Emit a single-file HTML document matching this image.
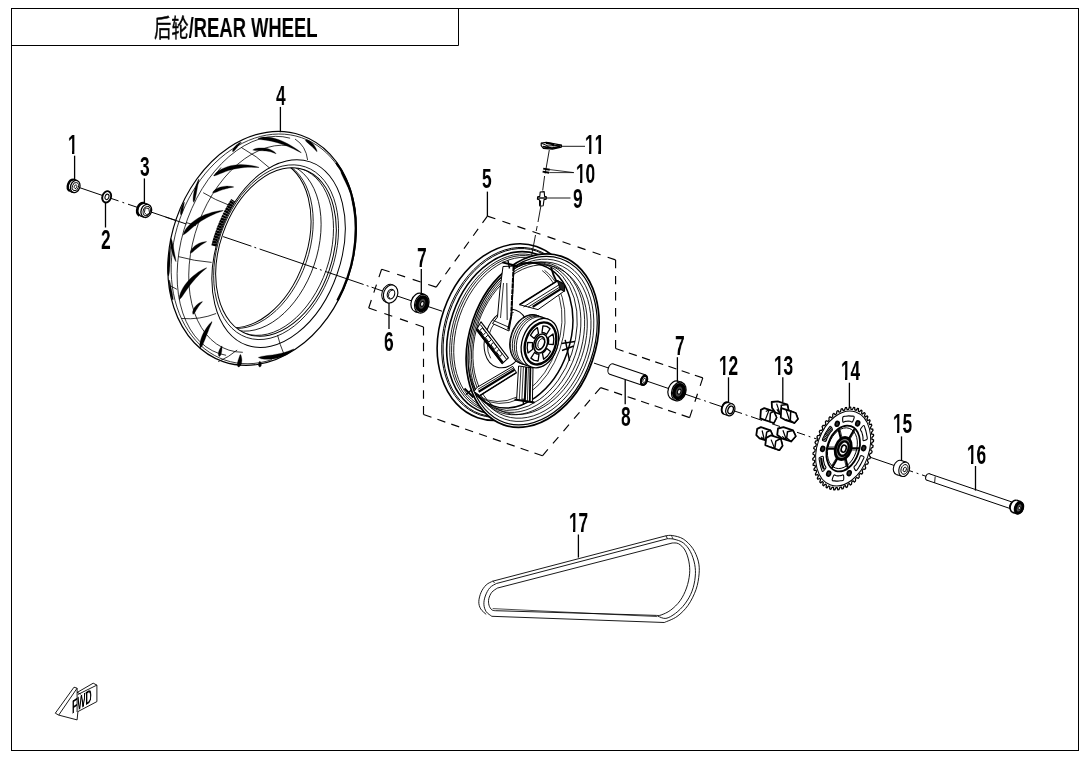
<!DOCTYPE html>
<html lang="zh"><head><meta charset="utf-8"><title>后轮/REAR WHEEL</title>
<style>
html,body{margin:0;padding:0;background:#fff;}
body{width:1090px;height:759px;overflow:hidden;position:relative;}
.t{position:absolute;white-space:nowrap;transform-origin:0 0;transform:scaleX(0.687);will-change:transform;line-height:30px;color:#000;}
.t .c{font:normal 25.2px/30px "Liberation Sans","Noto Sans CJK SC",sans-serif;-webkit-text-stroke:0.45px #000;}
.t .l{font:bold 26.8px/30px "Liberation Sans",sans-serif;}
.f{position:absolute;left:71.8px;top:697.5px;font:bold 18.5px/20px "Liberation Sans",sans-serif;color:#000;white-space:nowrap;transform-origin:0 0;transform:matrix(0.47,-0.30,0,1,0,0);will-change:transform;}
.n i{position:absolute;top:19.7px;height:4.2px;background:#fff;}
.n{position:absolute;font:bold 27.2px/1 "Liberation Sans",sans-serif;color:#000;white-space:nowrap;transform-origin:0 0;transform:scaleX(0.635);will-change:transform;font-kerning:none;}
svg{display:block;}
svg *{stroke:#000;}
text{stroke:none;fill:#000;}
.lb{font-family:"Liberation Sans",sans-serif;font-weight:bold;}
.cj{font-family:"Liberation Sans","Noto Sans CJK SC",sans-serif;font-weight:normal;stroke:#000 !important;stroke-width:0.45px;}
</style></head><body>
<svg width="1090" height="759" viewBox="0 0 1090 759" fill="none" stroke="#000" stroke-linecap="butt" stroke-linejoin="round">
<rect x="0" y="0" width="1090" height="759" fill="#fff" stroke="none" style="stroke:none"/>
<rect x="11.5" y="8.5" width="1067" height="742" stroke-width="1" fill="none" stroke-linejoin="miter"/>
<path d="M11.5 45.5H458.5V8.5" stroke-width="1" fill="none"/>
<line x1="78.0" y1="187.1" x2="102.0" y2="195.3" stroke-width="1.0" />
<line x1="111.0" y1="198.4" x2="118.5" y2="200.9" stroke-width="1.0" />
<line x1="122.4" y1="202.3" x2="124.2" y2="202.9" stroke-width="1.0" />
<line x1="128.0" y1="204.2" x2="139.0" y2="207.9" stroke-width="1.0" />
<line x1="151.0" y1="212.0" x2="186.0" y2="223.9" stroke-width="1.0" />
<line x1="371.6" y1="287.2" x2="384.0" y2="291.5" stroke-width="1.0" />
<line x1="396.0" y1="295.6" x2="414.0" y2="301.7" stroke-width="1.0" />
<line x1="428.0" y1="306.5" x2="442.0" y2="311.2" stroke-width="1.0" />
<line x1="594.0" y1="363.1" x2="610.0" y2="368.5" stroke-width="1.0" />
<line x1="646.0" y1="380.8" x2="670.0" y2="389.0" stroke-width="1.0" />
<line x1="685.0" y1="394.1" x2="700.5" y2="399.4" stroke-width="1.0" />
<line x1="704.1" y1="400.6" x2="705.9" y2="401.2" stroke-width="1.0" />
<line x1="709.5" y1="402.5" x2="724.0" y2="407.4" stroke-width="1.0" />
<line x1="735.0" y1="411.2" x2="742.0" y2="413.5" stroke-width="1.0" />
<line x1="745.6" y1="414.8" x2="747.4" y2="415.4" stroke-width="1.0" />
<line x1="751.0" y1="416.6" x2="762.0" y2="420.4" stroke-width="1.0" />
<line x1="772.0" y1="423.8" x2="780.0" y2="426.5" stroke-width="1.0" />
<line x1="797.0" y1="432.3" x2="805.0" y2="435.0" stroke-width="1.0" />
<line x1="808.6" y1="436.3" x2="810.4" y2="436.9" stroke-width="1.0" />
<line x1="814.0" y1="438.1" x2="822.0" y2="440.8" stroke-width="1.0" />
<line x1="868.0" y1="456.5" x2="896.0" y2="466.1" stroke-width="1.0" />
<line x1="909.0" y1="470.5" x2="913.0" y2="471.9" stroke-width="1.0" />
<line x1="916.6" y1="473.1" x2="918.4" y2="473.7" stroke-width="1.0" />
<line x1="922.0" y1="474.9" x2="928.0" y2="477.0" stroke-width="1.0" />
<line x1="487.4" y1="216.1" x2="615.6" y2="259.9" stroke-width="1.15" stroke-dasharray="8.40 7.48"/>
<line x1="615.6" y1="259.9" x2="615.6" y2="348.5" stroke-width="1.15" stroke-dasharray="8.40 7.64"/>
<line x1="615.6" y1="348.5" x2="702.8" y2="377.9" stroke-width="1.15" stroke-dasharray="8.40 5.54"/>
<line x1="702.8" y1="377.9" x2="689.6" y2="417.6" stroke-width="1.15" stroke-dasharray="8.40 8.32"/>
<line x1="689.6" y1="417.6" x2="600.6" y2="387.6" stroke-width="1.15" stroke-dasharray="8.40 5.85"/>
<line x1="600.6" y1="387.6" x2="542.4" y2="455.8" stroke-width="1.15" stroke-dasharray="8.40 7.85"/>
<line x1="542.4" y1="455.8" x2="423.5" y2="414.5" stroke-width="1.15" stroke-dasharray="8.40 6.28"/>
<line x1="423.5" y1="414.5" x2="423.5" y2="327.0" stroke-width="1.15" stroke-dasharray="8.40 7.42"/>
<line x1="423.5" y1="327.0" x2="368.7" y2="308.0" stroke-width="1.15" stroke-dasharray="8.40 8.13"/>
<line x1="368.7" y1="308.0" x2="381.6" y2="269.2" stroke-width="1.15" stroke-dasharray="8.40 7.84"/>
<line x1="381.6" y1="269.2" x2="436.2" y2="287.1" stroke-width="1.15" stroke-dasharray="8.40 7.95"/>
<line x1="436.2" y1="287.1" x2="487.4" y2="216.1" stroke-width="1.15" stroke-dasharray="8.40 7.43"/>
<defs><clipPath id="cpHole"><ellipse cx="276" cy="252" rx="56.2" ry="87" transform="rotate(19 276 252)"/></clipPath></defs>
<ellipse cx="262.1" cy="248.4" rx="90.8" ry="119.7" transform="rotate(19.0 262.1 248.4)" stroke-width="1.2" fill="#fff" />
<path d="M272.0 359.6A88.6 117.6 19.0 1 1 338.3 167.0" stroke-width="0.8" fill="none" />
<path d="M226.1 355.3A73.2 113.4 19.0 1 1 290.1 138.2" stroke-width="0.8" fill="none" />
<path d="M242.8 352.3A69.1 106.9 19.0 1 1 288.7 145.6" stroke-width="0.8" fill="none" />
<path d="M336.3 162.9A90.2 119.0 19.0 0 1 337.4 300.6" stroke-width="2.2" fill="none" />
<ellipse cx="278.6" cy="253.6" rx="62.0" ry="97.0" transform="rotate(19.0 278.6 253.6)" stroke-width="1" fill="#fff" />
<ellipse cx="276.1" cy="252.2" rx="58.3" ry="90.2" transform="rotate(19.0 276.1 252.2)" stroke-width="0.8" fill="none" />
<ellipse cx="276.0" cy="252.0" rx="56.2" ry="87.0" transform="rotate(19.0 276.0 252.0)" stroke-width="1" fill="#fff" />
<g clip-path="url(#cpHole)">
<ellipse cx="250.7" cy="243.4" rx="56.2" ry="87.0" transform="rotate(19.0 250.7 243.4)" stroke-width="1" fill="none" />
<ellipse cx="253.0" cy="244.2" rx="56.2" ry="87.0" transform="rotate(19.0 253.0 244.2)" stroke-width="0.8" fill="none" />
<ellipse cx="260.9" cy="246.9" rx="56.2" ry="87.0" transform="rotate(19.0 260.9 246.9)" stroke-width="0.8" fill="none" />
<ellipse cx="273.3" cy="251.1" rx="56.2" ry="87.0" transform="rotate(19.0 273.3 251.1)" stroke-width="0.8" fill="none" />
</g>
<polygon points="258.0,138.9 260.7,139.6 263.3,139.9 265.9,140.2 268.6,140.7 271.4,141.2 274.3,141.9 277.3,142.7 280.4,143.7 283.6,144.8 286.9,146.1 290.3,147.5 293.8,149.1 297.4,150.9 301.1,152.8 301.3,152.6 297.9,150.0 294.5,147.8 291.2,145.7 287.9,143.8 284.7,142.2 281.5,140.8 278.3,139.5 275.2,138.6 272.1,137.8 269.1,137.3 266.2,137.1 263.3,137.1 260.6,137.5 258.0,138.7" fill="#000" stroke-width="0.3"/>
<polygon points="305.3,140.1 306.0,141.3 306.9,142.2 307.7,143.0 308.6,143.7 309.4,144.4 310.3,145.2 311.1,145.9 312.0,146.6 312.8,147.4 313.6,148.2 314.4,149.0 315.2,149.9 316.0,150.8 316.9,151.7 317.1,151.5 316.8,150.3 316.3,149.1 315.8,148.0 315.2,146.9 314.6,145.9 313.9,144.9 313.1,143.9 312.2,143.0 311.3,142.2 310.3,141.5 309.3,140.8 308.1,140.2 306.9,139.8 305.5,139.9" fill="#000" stroke-width="0.3"/>
<polygon points="252.8,150.1 255.0,150.5 257.1,150.6 259.0,150.7 260.9,150.7 262.7,150.8 264.4,150.9 266.0,151.0 267.5,151.2 269.0,151.5 270.5,151.8 271.9,152.2 273.2,152.7 274.6,153.2 275.9,153.8 276.1,153.6 275.1,152.5 273.9,151.5 272.6,150.7 271.2,149.9 269.7,149.3 268.1,148.7 266.4,148.3 264.7,148.0 262.8,147.9 260.9,147.9 258.9,148.0 256.9,148.3 254.8,148.8 252.8,149.9" fill="#000" stroke-width="0.3"/>
<polygon points="232.8,151.7 233.8,151.2 234.5,150.6 235.1,149.9 235.6,149.2 236.2,148.5 236.8,147.9 237.3,147.2 237.8,146.5 238.4,145.8 239.0,145.1 239.5,144.4 240.1,143.7 240.7,143.0 241.3,142.2 241.1,142.0 240.2,142.4 239.4,142.8 238.6,143.3 237.8,143.9 237.1,144.4 236.3,145.0 235.6,145.7 235.0,146.4 234.4,147.1 233.8,147.9 233.3,148.7 232.9,149.5 232.6,150.4 232.6,151.5" fill="#000" stroke-width="0.3"/>
<polygon points="213.9,176.0 217.1,175.1 220.0,173.8 222.8,172.7 225.6,171.6 228.5,170.6 231.5,169.7 234.6,169.0 237.7,168.4 240.9,167.9 244.3,167.5 247.8,167.3 251.4,167.3 255.1,167.4 259.0,167.5 259.0,167.3 255.3,166.2 251.5,165.5 247.9,165.0 244.3,164.7 240.7,164.6 237.2,164.8 233.8,165.2 230.5,165.8 227.3,166.7 224.2,167.9 221.2,169.3 218.4,171.0 215.8,173.1 213.7,175.8" fill="#000" stroke-width="0.3"/>
<polygon points="212.8,192.8 214.5,192.7 216.0,192.2 217.4,191.7 218.8,191.1 220.2,190.6 221.6,190.1 223.0,189.6 224.5,189.2 225.9,188.8 227.4,188.4 228.9,188.0 230.5,187.7 232.1,187.4 233.8,187.1 233.8,186.9 232.1,186.5 230.5,186.3 228.8,186.2 227.1,186.1 225.5,186.2 223.8,186.4 222.2,186.7 220.6,187.1 219.1,187.6 217.6,188.3 216.2,189.0 214.8,190.0 213.6,191.0 212.6,192.6" fill="#000" stroke-width="0.3"/>
<polygon points="193.8,202.2 194.7,200.6 195.2,198.9 195.6,197.2 195.9,195.5 196.3,193.9 196.6,192.2 196.9,190.6 197.2,188.9 197.5,187.3 197.8,185.6 198.2,184.0 198.5,182.4 198.8,180.7 199.1,179.1 198.9,178.9 198.0,180.4 197.3,182.0 196.7,183.5 196.0,185.1 195.5,186.7 194.9,188.4 194.5,190.0 194.0,191.7 193.7,193.4 193.4,195.1 193.2,196.8 193.1,198.6 193.1,200.4 193.6,202.2" fill="#000" stroke-width="0.3"/>
<polygon points="183.3,235.0 186.2,233.1 188.7,230.9 191.1,228.8 193.5,226.8 196.0,224.8 198.5,223.0 201.2,221.1 203.9,219.4 206.8,217.8 209.8,216.2 213.0,214.7 216.2,213.3 219.7,212.0 223.2,210.7 223.2,210.5 219.4,210.8 215.7,211.5 212.1,212.3 208.7,213.4 205.3,214.6 202.1,216.0 199.0,217.6 196.1,219.4 193.3,221.4 190.7,223.6 188.3,226.0 186.1,228.6 184.3,231.5 183.1,234.8" fill="#000" stroke-width="0.3"/>
<polygon points="190.6,253.1 192.1,252.4 193.3,251.5 194.3,250.6 195.3,249.7 196.3,248.9 197.4,248.0 198.4,247.2 199.4,246.4 200.5,245.6 201.6,244.8 202.8,244.0 204.0,243.3 205.2,242.6 206.5,241.8 206.5,241.6 204.9,241.7 203.5,241.9 202.0,242.3 200.6,242.8 199.2,243.3 197.9,243.9 196.6,244.7 195.4,245.5 194.2,246.4 193.2,247.5 192.2,248.6 191.3,249.9 190.6,251.2 190.4,252.9" fill="#000" stroke-width="0.3"/>
<polygon points="179.3,299.7 181.7,297.3 183.4,294.7 185.1,292.2 186.8,289.8 188.5,287.4 190.2,285.0 192.0,282.7 193.9,280.5 195.8,278.3 197.8,276.2 199.9,274.1 202.0,272.0 204.3,270.0 206.7,268.0 206.5,267.8 203.7,269.0 200.9,270.5 198.3,272.1 195.8,273.9 193.4,275.8 191.1,277.8 188.9,280.0 186.8,282.4 185.0,284.8 183.2,287.4 181.7,290.2 180.4,293.1 179.4,296.2 179.1,299.5" fill="#000" stroke-width="0.3"/>
<polygon points="193.1,314.3 194.2,313.4 194.9,312.4 195.5,311.5 196.0,310.5 196.6,309.6 197.2,308.7 197.7,307.8 198.3,307.0 198.9,306.1 199.5,305.2 200.2,304.4 200.9,303.5 201.7,302.7 202.5,301.8 202.3,301.6 201.2,302.0 200.1,302.5 199.1,303.1 198.1,303.7 197.2,304.5 196.3,305.3 195.5,306.2 194.8,307.1 194.1,308.1 193.5,309.2 193.1,310.4 192.7,311.6 192.6,312.8 192.9,314.3" fill="#000" stroke-width="0.3"/>
<polygon points="200.4,348.0 202.0,346.2 203.0,344.2 203.8,342.3 204.6,340.4 205.4,338.5 206.1,336.6 206.8,334.7 207.6,332.8 208.3,331.0 209.0,329.1 209.8,327.3 210.6,325.5 211.4,323.7 212.1,321.8 211.9,321.6 210.4,323.0 209.0,324.5 207.8,326.1 206.5,327.8 205.4,329.5 204.3,331.3 203.3,333.1 202.4,335.1 201.6,337.0 200.9,339.1 200.3,341.2 199.9,343.3 199.7,345.6 200.2,348.0" fill="#000" stroke-width="0.3"/>
<polygon points="219.4,356.5 220.3,355.8 220.7,355.1 221.0,354.4 221.2,353.7 221.4,352.9 221.5,352.2 221.7,351.5 221.8,350.7 221.9,350.0 221.9,349.2 222.0,348.4 222.1,347.7 222.1,346.9 222.1,346.1 221.9,345.9 221.3,346.6 220.8,347.2 220.4,347.9 220.0,348.6 219.6,349.3 219.3,350.0 219.0,350.8 218.7,351.5 218.5,352.3 218.4,353.1 218.4,353.9 218.4,354.8 218.5,355.6 219.2,356.5" fill="#000" stroke-width="0.3"/>
<polygon points="238.4,367.1 239.7,366.5 240.4,365.7 240.9,364.9 241.3,364.0 241.6,363.1 241.7,362.1 241.8,361.2 241.9,360.2 241.8,359.2 241.7,358.2 241.5,357.3 241.3,356.3 241.0,355.3 240.5,354.4 240.3,354.4 239.8,355.3 239.5,356.2 239.2,357.1 238.9,358.0 238.6,358.9 238.3,359.7 238.0,360.5 237.8,361.4 237.6,362.2 237.4,363.0 237.4,363.9 237.4,364.8 237.5,365.8 238.2,366.9" fill="#000" stroke-width="0.3"/>
<polygon points="258.3,357.6 261.3,358.8 264.4,359.2 267.4,359.3 270.3,359.2 273.1,358.9 275.9,358.4 278.5,357.8 281.1,357.0 283.5,356.0 285.9,354.9 288.1,353.7 290.3,352.3 292.3,350.8 294.1,349.1 293.9,348.9 291.7,349.8 289.4,350.7 287.2,351.5 284.8,352.3 282.5,352.9 280.1,353.5 277.6,354.0 275.1,354.4 272.5,354.9 269.9,355.2 267.1,355.6 264.3,356.0 261.4,356.4 258.3,357.4" fill="#000" stroke-width="0.3"/>
<polygon points="259.9,367.0 260.7,366.6 261.0,366.2 261.2,365.8 261.3,365.3 261.3,364.9 261.3,364.5 261.3,364.1 261.2,363.6 261.1,363.2 260.9,362.8 260.7,362.4 260.5,362.0 260.3,361.6 259.9,361.2 259.7,361.2 259.4,361.6 259.2,362.0 259.0,362.4 258.9,362.8 258.7,363.2 258.6,363.6 258.5,364.1 258.5,364.5 258.4,364.9 258.5,365.3 258.5,365.7 258.7,366.1 259.0,366.5 259.7,367.0" fill="#000" stroke-width="0.3"/>
<polygon points="170.7,238.4 170.2,240.2 170.2,241.9 170.3,243.6 170.5,245.2 170.7,246.9 171.1,248.6 171.5,250.3 171.9,251.9 172.5,253.6 173.0,255.2 173.7,256.8 174.3,258.5 175.0,260.1 175.9,261.6 176.1,261.6 175.8,259.8 175.5,258.1 175.2,256.4 174.8,254.7 174.5,253.0 174.2,251.4 173.9,249.7 173.6,248.1 173.3,246.4 173.0,244.8 172.6,243.2 172.2,241.6 171.8,240.0 170.9,238.4" fill="#000" stroke-width="0.3"/>
<polygon points="168.5,276.0 169.1,274.0 169.4,272.0 169.6,270.0 169.7,267.9 169.9,265.9 170.0,263.8 170.1,261.7 170.2,259.6 170.3,257.5 170.3,255.3 170.4,253.1 170.5,251.0 170.6,248.8 170.6,246.5 170.4,246.5 169.8,248.7 169.4,250.8 169.0,253.0 168.7,255.2 168.4,257.3 168.1,259.4 167.9,261.5 167.7,263.7 167.6,265.7 167.5,267.8 167.5,269.9 167.5,271.9 167.7,274.0 168.3,276.0" fill="#000" stroke-width="0.3"/>
<polygon points="181.1,214.9 181.8,214.0 182.2,213.1 182.5,212.2 182.8,211.3 183.0,210.4 183.2,209.5 183.4,208.5 183.5,207.6 183.7,206.7 183.8,205.8 184.0,205.0 184.1,204.1 184.3,203.2 184.3,202.3 184.1,202.1 183.5,202.9 183.1,203.7 182.6,204.5 182.2,205.4 181.9,206.2 181.5,207.1 181.2,208.0 181.0,208.9 180.7,209.9 180.6,210.8 180.4,211.8 180.4,212.8 180.4,213.8 180.9,214.9" fill="#000" stroke-width="0.3"/>
<polygon points="173.1,300.0 173.2,298.4 173.0,296.9 172.7,295.5 172.5,294.1 172.2,292.6 171.9,291.2 171.6,289.8 171.3,288.4 171.0,287.0 170.7,285.6 170.5,284.2 170.2,282.8 169.9,281.4 169.6,280.0 169.4,280.0 169.2,281.5 169.2,282.9 169.2,284.4 169.3,285.8 169.3,287.3 169.5,288.7 169.7,290.2 169.9,291.6 170.2,293.1 170.5,294.5 170.9,295.9 171.4,297.4 172.0,298.7 172.9,300.0" fill="#000" stroke-width="0.3"/>
<polygon points="340.9,172.1 341.4,173.7 342.1,175.2 342.8,176.8 343.5,178.3 344.2,179.8 345.0,181.3 345.7,182.8 346.5,184.4 347.2,186.0 348.0,187.5 348.7,189.1 349.4,190.8 350.1,192.4 350.9,194.0 351.1,194.0 350.7,192.2 350.2,190.5 349.7,188.8 349.1,187.1 348.6,185.4 347.9,183.8 347.3,182.2 346.6,180.6 345.8,179.0 345.0,177.5 344.2,176.0 343.3,174.6 342.3,173.2 341.1,171.9" fill="#000" stroke-width="0.3"/>
<polygon points="351.4,196.0 351.4,197.7 351.6,199.3 351.9,200.9 352.2,202.5 352.5,204.2 352.9,205.8 353.2,207.4 353.5,209.0 353.8,210.7 354.1,212.3 354.4,214.0 354.7,215.6 355.0,217.3 355.4,219.0 355.6,219.0 355.7,217.3 355.6,215.5 355.5,213.8 355.4,212.1 355.2,210.5 355.1,208.8 354.8,207.1 354.6,205.5 354.2,203.8 353.9,202.2 353.5,200.6 353.0,199.0 352.5,197.4 351.6,196.0" fill="#000" stroke-width="0.3"/>
<path d="M203.2 192.7Q215 200 229.6 205.4" stroke-width="0.8" fill="none" />
<path d="M241.2 147.4Q257 156 269.6 168" stroke-width="0.8" fill="none" />
<path d="M295 139Q306 146 307.6 160" stroke-width="0.8" fill="none" />
<path d="M178.4 256.6Q194 261 211.6 262.4" stroke-width="0.8" fill="none" />
<path d="M170 285.6L176.9 289.3" stroke-width="0.8" fill="none" />
<path d="M181.4 318.5Q200 320 216.1 313.5" stroke-width="0.8" fill="none" />
<path d="M218.2 361.7Q229 357 237.2 350" stroke-width="0.8" fill="none" />
<path d="M186 222.5L196 225.5" stroke-width="0.8" fill="none" />
<path d="M214 176L221 167.5" stroke-width="0.8" fill="none" />
<path d="M277.5 335Q280 345 283.5 353" stroke-width="0.8" fill="none" />
<path d="M213.6 245.9A64.6 99.7 19.0 0 1 233.2 200.2" stroke-width="4.6" fill="none" stroke-dasharray="2.4 0.3"/>
<line x1="165.5" y1="217.0" x2="186.3" y2="224.0" stroke-width="1.0" />
<line x1="223.1" y1="236.6" x2="251.4" y2="246.2" stroke-width="1.0" />
<line x1="254.4" y1="247.3" x2="256.2" y2="247.9" stroke-width="1.0" />
<line x1="259.6" y1="249.0" x2="316.9" y2="268.6" stroke-width="1.0" />
<line x1="319.9" y1="269.6" x2="321.7" y2="270.2" stroke-width="1.0" />
<line x1="325.1" y1="271.4" x2="363.6" y2="284.5" stroke-width="1.0" />
<line x1="366.7" y1="285.6" x2="368.5" y2="286.2" stroke-width="1.0" />
<ellipse cx="507.1" cy="332.1" rx="66.9" ry="90.5" transform="rotate(19.0 507.1 332.1)" stroke-width="1.6" fill="#fff" />
<ellipse cx="508.0" cy="332.4" rx="63.4" ry="87.2" transform="rotate(19.0 508.0 332.4)" stroke-width="0.9" fill="none" />
<ellipse cx="508.3" cy="332.5" rx="62.3" ry="86.2" transform="rotate(19.0 508.3 332.5)" stroke-width="0.9" fill="none" />
<ellipse cx="509.1" cy="332.8" rx="59.3" ry="83.4" transform="rotate(19.0 509.1 332.8)" stroke-width="1.6" fill="none" />
<ellipse cx="509.7" cy="333.0" rx="57.0" ry="81.2" transform="rotate(19.0 509.7 333.0)" stroke-width="0.8" fill="none" />
<ellipse cx="510.1" cy="333.1" rx="55.5" ry="79.8" transform="rotate(19.0 510.1 333.1)" stroke-width="0.8" fill="none" />
<ellipse cx="510.5" cy="333.3" rx="53.7" ry="78.2" transform="rotate(19.0 510.5 333.3)" stroke-width="0.8" fill="none" />
<ellipse cx="532.6" cy="340.6" rx="63.1" ry="89.1" transform="rotate(19.0 532.6 340.6)" stroke-width="1.7" fill="#fff" />
<ellipse cx="532.6" cy="340.6" rx="61.3" ry="86.6" transform="rotate(19.0 532.6 340.6)" stroke-width="1.2" fill="none" />
<defs><clipPath id="cpRim"><ellipse cx="532.6" cy="340.6" rx="61.3" ry="86.6" transform="rotate(19 532.6 340.6)"/></clipPath></defs>
<g clip-path="url(#cpRim)">
<ellipse cx="531.8" cy="340.3" rx="59.0" ry="83.4" transform="rotate(19.0 531.8 340.3)" stroke-width="0.8" fill="none" />
<ellipse cx="531.2" cy="340.1" rx="56.9" ry="80.3" transform="rotate(19.0 531.2 340.1)" stroke-width="0.8" fill="none" />
<ellipse cx="530.1" cy="339.7" rx="54.4" ry="76.9" transform="rotate(19.0 530.1 339.7)" stroke-width="0.8" fill="none" />
<ellipse cx="526.2" cy="338.4" rx="55.6" ry="78.5" transform="rotate(19.0 526.2 338.4)" stroke-width="0.8" fill="none" />
<ellipse cx="523.6" cy="337.5" rx="54.5" ry="77.0" transform="rotate(19.0 523.6 337.5)" stroke-width="0.8" fill="none" />
<ellipse cx="520.7" cy="336.5" rx="53.8" ry="76.0" transform="rotate(19.0 520.7 336.5)" stroke-width="0.8" fill="none" />
<ellipse cx="517.4" cy="335.4" rx="52.7" ry="74.5" transform="rotate(19.0 517.4 335.4)" stroke-width="1.5" fill="none" />
<path d="M544.5 270.3A51.0 72.0 19.0 0 1 480.1 397.6" stroke-width="0.8" fill="none" />
<path d="M542.1 270.5A50.3 71.0 19.0 0 1 478.6 396.0" stroke-width="0.8" fill="none" />
</g>
<ellipse cx="506.2" cy="338.6" rx="21.0" ry="30.0" transform="rotate(19.0 506.2 338.6)" stroke-width="1.0" fill="#fff" />
<path d="M490.7 358.3A19.0 27.4 19.0 0 1 513.7 312.5" stroke-width="0.8" fill="none" />
<polygon points="503.0,266.5 514.0,266.0 511.6,316.0 509.0,331.0 492.5,323.5 497.5,317.0 499.8,291.0" stroke-width="1.0" fill="#fff" />
<line x1="513.6" y1="266.0" x2="511.2" y2="316.0" stroke-width="2.0" stroke-dasharray="5 0.8"/>
<line x1="511.2" y1="316.0" x2="508.0" y2="329.5" stroke-width="1.6" />
<line x1="506.8" y1="283.0" x2="507.2" y2="320.0" stroke-width="0.9" />
<line x1="503.5" y1="283.0" x2="500.5" y2="318.0" stroke-width="0.8" />
<line x1="493.5" y1="320.5" x2="509.5" y2="327.5" stroke-width="0.9" />
<path d="M502.3 262.4L517.6 266.2" stroke-width="2.0" fill="none" />
<path d="M508 260.5L509.5 268.5" stroke-width="1.4" fill="none" />
<polygon points="519.5,304.7 557.7,280.6 564.5,284.5 564.3,291.0 538.0,309.6" stroke-width="1.0" fill="#fff" />
<line x1="523.5" y1="307.0" x2="559.0" y2="284.8" stroke-width="0.9" />
<line x1="532.7" y1="306.9" x2="561.7" y2="288.4" stroke-width="2.3" />
<line x1="528.0" y1="307.2" x2="560.5" y2="286.6" stroke-width="0.9" />
<line x1="519.5" y1="304.7" x2="557.7" y2="280.6" stroke-width="1.6" />
<polygon points="557.3,280.4 564.6,284.4 564.6,291.4 560.2,289.3" stroke-width="1.0" fill="#222" />
<path d="M551 267Q553 275 556.5 281.5" stroke-width="1.8" fill="none" />
<polygon points="481.0,321.8 508.4,357.8 502.2,363.6 476.4,329.6" stroke-width="1.1" fill="#fff" />
<line x1="477.0" y1="329.4" x2="502.6" y2="362.8" stroke-width="2.6" />
<line x1="480.4" y1="324.6" x2="506.6" y2="359.4" stroke-width="1.0" />
<polygon points="482.4,328.0 485.8,332.5 483.3,334.9 479.9,330.4" stroke-width="1.0" fill="#fff" />
<polygon points="487.9,335.2 491.3,339.7 488.8,342.1 485.4,337.6" stroke-width="1.0" fill="#fff" />
<polygon points="493.4,342.4 496.8,346.9 494.3,349.3 490.9,344.8" stroke-width="1.0" fill="#fff" />
<polygon points="498.9,349.6 502.3,354.1 499.8,356.5 496.4,352.0" stroke-width="1.0" fill="#fff" />
<polygon points="512.7,366.4 477.0,387.4 474.0,391.5 479.8,395.6 516.5,372.6" stroke-width="1.0" fill="#fff" />
<line x1="514.5" y1="369.8" x2="478.6" y2="391.8" stroke-width="2.2" />
<line x1="513.5" y1="368.0" x2="477.8" y2="389.4" stroke-width="0.9" />
<line x1="516.5" y1="372.6" x2="479.8" y2="395.6" stroke-width="1.5" />
<path d="M464.5 388.5L473.5 397.5" stroke-width="2.0" fill="none" />
<path d="M466 394.5L472 389.5" stroke-width="1.3" fill="none" />
<polygon points="518.6,366.0 516.6,400.0 532.4,402.0 533.0,368.0" stroke-width="1.0" fill="#fff" />
<line x1="521.0" y1="367.0" x2="519.2" y2="401.0" stroke-width="0.8" />
<line x1="523.4" y1="367.0" x2="521.8" y2="401.0" stroke-width="0.8" />
<line x1="526.2" y1="367.0" x2="524.8" y2="401.0" stroke-width="2.0" />
<line x1="528.4" y1="367.0" x2="527.4" y2="401.0" stroke-width="0.8" />
<line x1="530.4" y1="367.0" x2="529.8" y2="401.0" stroke-width="1.8" />
<path d="M514.5 399.5L534.5 402.5" stroke-width="2.0" fill="none" />
<path d="M523 398.5L523.5 405" stroke-width="1.3" fill="none" />
<path d="M561.5 343.5L575 341.5M565.2 339.8L569.6 360.8M562 350.5L573.8 346" stroke-width="1.5" fill="none" />
<ellipse cx="528.4" cy="339.3" rx="17.8" ry="25.4" transform="rotate(19.0 528.4 339.3)" stroke-width="1" fill="#fff" />
<path d="M520.1 363.3L531.6 367.2L548.2 319.2L536.7 315.3Z" stroke-width="0.01" fill="#fff" />
<line x1="520.1" y1="363.3" x2="531.6" y2="367.2" stroke-width="1" />
<line x1="536.7" y1="315.3" x2="548.2" y2="319.2" stroke-width="1" />
<path d="M526.4 365.4A17.8 25.4 19.0 0 1 543.0 317.4" stroke-width="0.9" fill="none" />
<path d="M524.4 364.7A17.8 25.4 19.0 0 1 541.0 316.7" stroke-width="0.9" fill="none" />
<path d="M522.4 364.1A17.8 25.4 19.0 0 1 539.0 316.1" stroke-width="0.9" fill="none" />
<path d="M520.4 363.4A17.8 25.4 19.0 0 1 537.0 315.4" stroke-width="0.9" fill="none" />
<ellipse cx="539.9" cy="343.2" rx="17.8" ry="25.4" transform="rotate(19.0 539.9 343.2)" stroke-width="1.3" fill="#fff" />
<ellipse cx="540.5" cy="343.4" rx="15.0" ry="21.6" transform="rotate(19.0 540.5 343.4)" stroke-width="2.4" fill="none" />
<polygon points="550.6,351.5 547.5,356.0 543.6,359.2 542.4,353.2 544.8,351.2 546.8,348.4" stroke-width="1.3" fill="#fff" />
<polygon points="538.1,361.0 534.2,360.4 530.9,358.1 534.5,352.5 536.6,353.9 539.0,354.3" stroke-width="1.3" fill="#fff" />
<polygon points="528.0,352.9 527.2,347.8 527.7,342.3 532.6,342.7 532.3,346.1 532.7,349.3" stroke-width="1.3" fill="#fff" />
<polygon points="530.4,335.3 533.5,330.8 537.4,327.6 538.6,333.6 536.2,335.6 534.2,338.4" stroke-width="1.3" fill="#fff" />
<polygon points="542.9,325.8 546.8,326.4 550.1,328.7 546.5,334.3 544.4,332.9 542.0,332.5" stroke-width="1.3" fill="#fff" />
<polygon points="553.0,333.9 553.8,339.0 553.3,344.5 548.4,344.1 548.7,340.7 548.3,337.5" stroke-width="1.3" fill="#fff" />
<ellipse cx="540.7" cy="343.5" rx="6.6" ry="9.8" transform="rotate(19.0 540.7 343.5)" stroke-width="1.6" fill="#fff" />
<ellipse cx="540.1" cy="343.2" rx="4.3" ry="6.8" transform="rotate(19.0 540.1 343.2)" stroke-width="1.5" fill="none" />
<ellipse cx="541.3" cy="343.7" rx="3.2" ry="5.2" transform="rotate(19.0 541.3 343.7)" stroke-width="0.9" fill="none" />
<path d="M665.9 535.8C667.0 535.8 669.3 535.0 672.2 535.5C675.1 536.0 679.9 536.8 683.3 539.0C686.7 541.2 690.3 544.8 692.8 548.5C695.3 552.2 697.2 556.9 698.3 561.1C699.3 565.3 699.5 569.0 699.1 573.8C698.7 578.5 697.9 584.3 696.0 589.6C694.1 594.9 691.2 600.9 688.0 605.4C684.8 609.9 681.0 613.6 677.0 616.5C673.0 619.4 666.4 621.5 664.3 622.5" stroke-width="0.9" fill="none" />
<path d="M667.5 538.7C668.6 538.8 671.4 538.5 674.0 539.2C676.6 539.9 680.6 540.8 683.3 542.9C686.0 545.0 688.5 548.0 690.4 551.6C692.3 555.2 693.9 560.1 694.7 564.3C695.5 568.5 695.7 572.5 695.2 577.0C694.8 581.5 693.7 586.7 692.0 591.2C690.3 595.7 687.7 600.2 684.9 603.9C682.1 607.6 678.6 611.0 675.4 613.4C672.2 615.8 668.8 617.9 665.9 618.4C663.0 618.9 659.3 616.6 658.0 616.2" stroke-width="0.9" fill="none" />
<path d="M672.2 543.0C673.2 543.1 676.4 542.5 678.5 543.7C680.6 544.9 683.2 547.1 684.9 550.0C686.6 552.9 688.0 557.1 688.8 561.1C689.6 565.1 690.0 569.3 689.6 573.8C689.2 578.3 688.1 583.5 686.5 588.0C684.9 592.5 682.8 597.0 680.1 600.7C677.5 604.4 673.8 607.8 670.6 610.2C667.4 612.6 663.5 614.1 661.1 615.0C658.7 615.9 657.2 615.3 656.4 615.4" stroke-width="0.9" fill="none" />
<path d="M492.7 581.2C491.6 581.8 488.1 583.0 486.2 584.9C484.3 586.8 482.3 589.5 481.1 592.3C479.9 595.1 478.9 598.7 478.8 601.5C478.7 604.3 479.5 606.8 480.7 608.9C481.9 611.0 485.3 613.5 486.2 614.4" stroke-width="0.9" fill="none" />
<path d="M496.4 583.5C495.3 584.2 491.8 585.6 489.9 587.7C488.0 589.8 486.3 593.2 485.3 596.0C484.3 598.8 483.8 601.7 483.9 604.3C484.0 606.9 484.9 609.7 486.2 611.7C487.5 613.7 490.9 615.5 491.8 616.3" stroke-width="0.9" fill="none" />
<path d="M497.3 588.1C496.4 588.8 493.2 590.5 491.8 592.3C490.4 594.1 489.3 596.6 488.8 598.7C488.3 600.9 488.5 603.4 489.0 605.2C489.5 607.1 490.7 608.9 491.8 609.8C492.9 610.7 494.8 610.6 495.4 610.7" stroke-width="0.9" fill="none" />
<line x1="492.7" y1="581.2" x2="665.9" y2="535.8" stroke-width="0.9" />
<line x1="496.4" y1="583.5" x2="667.5" y2="538.7" stroke-width="0.9" />
<line x1="497.3" y1="588.1" x2="672.2" y2="543.0" stroke-width="0.9" />
<line x1="664.3" y1="622.5" x2="491.8" y2="616.3" stroke-width="0.9" />
<line x1="656.4" y1="615.4" x2="495.4" y2="610.7" stroke-width="0.9" />
<line x1="657.5" y1="616.6" x2="492.7" y2="608.6" stroke-width="0.7" />
<line x1="492.7" y1="581.2" x2="494.6" y2="582.6" stroke-width="0.9" />
<line x1="665.9" y1="535.8" x2="667.5" y2="538.7" stroke-width="0.9" />
<line x1="671.5" y1="535.6" x2="673.0" y2="539.0" stroke-width="0.7" />
<path d="M55.3 713.2L74 687.2L77.1 688.2V692.5L93.2 683.2L96.9 685.1V701.6L77.9 711.6L77.1 719.9L58.7 715.1Z" stroke-width="0.9" fill="#fff" />
<path d="M58.7 715.1L77.1 688.2M77.1 692.5V712M77.9 694.5L96.9 685.1M77.1 692.2L80.8 694.2" stroke-width="0.9" fill="none" />
<ellipse cx="73.0" cy="185.7" rx="4.6" ry="6.2" transform="rotate(19.0 73.0 185.7)" stroke-width="1.3" fill="#fff" />
<polygon points="71.0,191.6 73.2,192.4 77.2,180.6 75.0,179.9" fill="#fff" stroke="none" style="stroke:none"/>
<line x1="71.0" y1="191.6" x2="73.2" y2="192.4" stroke-width="1.3" />
<line x1="75.0" y1="179.9" x2="77.2" y2="180.6" stroke-width="1.3" />
<ellipse cx="75.2" cy="186.5" rx="4.6" ry="6.2" transform="rotate(19.0 75.2 186.5)" stroke-width="1.3" fill="#fff" />
<path d="M69.8 191.2A4.8 6.3 19.0 0 1 73.8 179.5" stroke-width="2.2" fill="none" />
<ellipse cx="75.4" cy="186.6" rx="3.0" ry="4.2" transform="rotate(19.0 75.4 186.6)" stroke-width="0.9" fill="#fff" />
<ellipse cx="75.6" cy="186.7" rx="1.3" ry="1.9" transform="rotate(19.0 75.6 186.7)" stroke-width="0.8" fill="#fff" />
<ellipse cx="106.7" cy="196.8" rx="4.3" ry="5.8" transform="rotate(19.0 106.7 196.8)" stroke-width="1.9" fill="#fff" />
<ellipse cx="107.0" cy="196.9" rx="1.9" ry="2.8" transform="rotate(19.0 107.0 196.9)" stroke-width="1.0" fill="#fff" />
<ellipse cx="143.1" cy="209.8" rx="5.2" ry="6.7" transform="rotate(19.0 143.1 209.8)" stroke-width="1.3" fill="#fff" />
<polygon points="140.9,216.1 144.1,217.2 148.5,204.6 145.3,203.5" fill="#fff" stroke="none" style="stroke:none"/>
<line x1="140.9" y1="216.1" x2="144.1" y2="217.2" stroke-width="1.3" />
<line x1="145.3" y1="203.5" x2="148.5" y2="204.6" stroke-width="1.3" />
<ellipse cx="146.3" cy="210.9" rx="5.2" ry="6.7" transform="rotate(19.0 146.3 210.9)" stroke-width="1.3" fill="#fff" />
<path d="M139.5 215.7A5.4 6.9 19.0 0 1 143.9 202.9" stroke-width="2.4" fill="none" />
<ellipse cx="146.8" cy="211.1" rx="3.6" ry="4.8" transform="rotate(19.0 146.8 211.1)" stroke-width="1.0" fill="#fff" />
<path d="M145.2 207.8L148.8 208.6L149.6 213.2L146.6 214.8L144.4 212.6Z" stroke-width="0.9" fill="none" />
<ellipse cx="389.4" cy="293.6" rx="7.4" ry="9.5" transform="rotate(19.0 389.4 293.6)" stroke-width="1.0" fill="#fff" />
<ellipse cx="390.6" cy="294.0" rx="7.0" ry="9.2" transform="rotate(19.0 390.6 294.0)" stroke-width="1.1" fill="#fff" />
<ellipse cx="391.0" cy="294.1" rx="3.6" ry="4.9" transform="rotate(19.0 391.0 294.1)" stroke-width="1.1" fill="#fff" />
<path d="M390.0 298.5A3.3 4.5 19.0 0 1 392.9 290.1" stroke-width="0.9" fill="none" />
<ellipse cx="418.2" cy="302.5" rx="7.0" ry="9.6" transform="rotate(19.0 418.2 302.5)" stroke-width="1.2" fill="#fff" />
<polygon points="415.1,311.5 418.7,312.8 424.9,294.6 421.3,293.4" fill="#fff" stroke="none" style="stroke:none"/>
<line x1="415.1" y1="311.5" x2="418.7" y2="312.8" stroke-width="1.2" />
<line x1="421.3" y1="293.4" x2="424.9" y2="294.6" stroke-width="1.2" />
<ellipse cx="421.8" cy="303.7" rx="7.0" ry="9.6" transform="rotate(19.0 421.8 303.7)" stroke-width="1.2" fill="#fff" />
<ellipse cx="422.0" cy="303.8" rx="4.9" ry="7.0" transform="rotate(19.0 422.0 303.8)" stroke-width="3.6" fill="#444" />
<ellipse cx="422.2" cy="303.9" rx="1.7" ry="2.5" transform="rotate(19.0 422.2 303.9)" stroke-width="1.0" fill="#ddd" />
<ellipse cx="611.5" cy="369.1" rx="3.3" ry="5.4" transform="rotate(19.0 611.5 369.1)" stroke-width="1.1" fill="#fff" />
<polygon points="609.7,374.2 642.2,385.3 645.8,375.1 613.3,364.0" fill="#fff" stroke="none" style="stroke:none"/>
<line x1="609.7" y1="374.2" x2="642.2" y2="385.3" stroke-width="1.1" />
<line x1="613.3" y1="364.0" x2="645.8" y2="375.1" stroke-width="1.1" />
<ellipse cx="644.0" cy="380.2" rx="3.3" ry="5.4" transform="rotate(19.0 644.0 380.2)" stroke-width="1.1" fill="#fff" />
<ellipse cx="644.1" cy="380.3" rx="2.8" ry="4.5" transform="rotate(19.0 644.1 380.3)" stroke-width="2.2" fill="#fff" />
<ellipse cx="644.3" cy="380.4" rx="1.3" ry="2.3" transform="rotate(19.0 644.3 380.4)" stroke-width="0.8" fill="#fff" />
<ellipse cx="675.2" cy="390.3" rx="7.0" ry="9.6" transform="rotate(19.0 675.2 390.3)" stroke-width="1.2" fill="#fff" />
<polygon points="672.1,399.3 675.7,400.6 681.9,382.4 678.3,381.2" fill="#fff" stroke="none" style="stroke:none"/>
<line x1="672.1" y1="399.3" x2="675.7" y2="400.6" stroke-width="1.2" />
<line x1="678.3" y1="381.2" x2="681.9" y2="382.4" stroke-width="1.2" />
<ellipse cx="678.8" cy="391.5" rx="7.0" ry="9.6" transform="rotate(19.0 678.8 391.5)" stroke-width="1.2" fill="#fff" />
<ellipse cx="679.0" cy="391.6" rx="4.9" ry="7.0" transform="rotate(19.0 679.0 391.6)" stroke-width="3.6" fill="#444" />
<ellipse cx="679.2" cy="391.7" rx="1.7" ry="2.5" transform="rotate(19.0 679.2 391.7)" stroke-width="1.0" fill="#ddd" />
<ellipse cx="726.1" cy="408.4" rx="4.4" ry="6.2" transform="rotate(19.0 726.1 408.4)" stroke-width="1.2" fill="#fff" />
<polygon points="724.1,414.2 728.3,415.7 732.3,403.9 728.1,402.5" fill="#fff" stroke="none" style="stroke:none"/>
<line x1="724.1" y1="414.2" x2="728.3" y2="415.7" stroke-width="1.2" />
<line x1="728.1" y1="402.5" x2="732.3" y2="403.9" stroke-width="1.2" />
<ellipse cx="730.3" cy="409.8" rx="4.4" ry="6.2" transform="rotate(19.0 730.3 409.8)" stroke-width="1.2" fill="#fff" />
<ellipse cx="730.6" cy="409.9" rx="2.6" ry="3.9" transform="rotate(19.0 730.6 409.9)" stroke-width="1.3" fill="#fff" />
<path d="M723.7 414.0A4.6 6.3 19.0 0 1 727.8 402.3" stroke-width="1.8" fill="none" />
<ellipse cx="898.8" cy="467.5" rx="5.2" ry="7.4" transform="rotate(19.0 898.8 467.5)" stroke-width="1.1" fill="#fff" />
<polygon points="896.4,474.5 901.8,476.3 906.6,462.3 901.2,460.5" fill="#fff" stroke="none" style="stroke:none"/>
<line x1="896.4" y1="474.5" x2="901.8" y2="476.3" stroke-width="1.1" />
<line x1="901.2" y1="460.5" x2="906.6" y2="462.3" stroke-width="1.1" />
<ellipse cx="904.2" cy="469.3" rx="5.2" ry="7.4" transform="rotate(19.0 904.2 469.3)" stroke-width="1.1" fill="#fff" />
<ellipse cx="904.5" cy="469.4" rx="3.4" ry="5.0" transform="rotate(19.0 904.5 469.4)" stroke-width="0.9" fill="#fff" />
<ellipse cx="904.8" cy="469.5" rx="1.5" ry="2.4" transform="rotate(19.0 904.8 469.5)" stroke-width="0.9" fill="#fff" />
<ellipse cx="928.0" cy="477.0" rx="2.2" ry="3.4" transform="rotate(19.0 928.0 477.0)" stroke-width="1.0" fill="#fff" />
<polygon points="926.9,480.2 1010.9,508.8 1013.1,502.4 929.1,473.7" fill="#fff" stroke="none" style="stroke:none"/>
<line x1="926.9" y1="480.2" x2="1010.9" y2="508.8" stroke-width="1.0" />
<line x1="929.1" y1="473.7" x2="1013.1" y2="502.4" stroke-width="1.0" />
<ellipse cx="1012.0" cy="505.6" rx="2.2" ry="3.4" transform="rotate(19.0 1012.0 505.6)" stroke-width="1.0" fill="#fff" />
<path d="M935.2 476.4L934.6 483" stroke-width="0.9" fill="none" />
<ellipse cx="1014.6" cy="506.3" rx="4.2" ry="6.3" transform="rotate(19.0 1014.6 506.3)" stroke-width="1.5" fill="#fff" />
<polygon points="1012.5,512.3 1016.9,513.8 1021.1,501.8 1016.7,500.3" fill="#fff" stroke="none" style="stroke:none"/>
<line x1="1012.5" y1="512.3" x2="1016.9" y2="513.8" stroke-width="1.5" />
<line x1="1016.7" y1="500.3" x2="1021.1" y2="501.8" stroke-width="1.5" />
<ellipse cx="1019.0" cy="507.8" rx="4.2" ry="6.3" transform="rotate(19.0 1019.0 507.8)" stroke-width="1.5" fill="#fff" />
<ellipse cx="1019.1" cy="507.9" rx="3.3" ry="5.1" transform="rotate(19.0 1019.1 507.9)" stroke-width="2.6" fill="#555" />
<ellipse cx="1019.4" cy="508.0" rx="1.2" ry="1.8" transform="rotate(19.0 1019.4 508.0)" stroke-width="0.8" fill="#ccc" />
<polygon points="760.3,418.4 760.9,409.9 764.3,408.1 773.8,411.3 776.5,417.5 773.8,423.0 764.3,419.8" stroke-width="1.8" fill="#fff"/>
<polyline points="765.8,411.5 769.2,409.7 765.2,420.1" stroke-width="1.2" fill="none"/>
<polygon points="770.4,413.1 773.8,411.3 776.6,417.5 773.8,423.0 769.8,421.6" stroke-width="1.5" fill="#fff"/>
<polygon points="771.7,402.0 777.8,401.3 787.3,404.5 788.6,410.5 784.8,415.7 775.3,412.5 772.0,407.8" stroke-width="1.8" fill="#fff"/>
<polyline points="776.6,403.6 780.2,414.1 776.9,409.4" stroke-width="1.2" fill="none"/>
<polygon points="781.2,405.2 787.3,404.5 788.6,410.5 784.8,415.7 781.5,411.0" stroke-width="1.5" fill="#fff"/>
<polygon points="756.3,435.2 757.2,428.9 760.9,427.1 770.4,430.3 773.0,436.2 769.0,441.5 759.5,438.3" stroke-width="1.8" fill="#fff"/>
<polyline points="762.1,430.5 764.4,440.0 761.2,436.9" stroke-width="1.2" fill="none"/>
<polygon points="766.7,432.1 770.4,430.3 773.0,436.2 769.0,441.5 765.8,438.4" stroke-width="1.5" fill="#fff"/>
<polygon points="780.8,417.5 781.2,408.1 790.7,411.2 795.7,413.1 797.9,418.9 794.4,423.0 784.9,419.8" stroke-width="1.8" fill="#fff"/>
<polyline points="786.1,409.7 789.8,421.4 785.7,419.2" stroke-width="1.2" fill="none"/>
<polygon points="790.7,411.2 795.7,413.1 797.9,418.9 794.4,423.0 790.3,420.7" stroke-width="1.5" fill="#fff"/>
<polygon points="765.3,445.2 766.2,437.9 771.1,435.3 780.6,438.5 782.5,445.7 779.3,450.2 769.8,447.0" stroke-width="1.8" fill="#fff"/>
<polyline points="771.1,439.6 774.7,448.6 770.2,446.9" stroke-width="1.2" fill="none"/>
<polygon points="775.8,441.2 780.7,438.5 782.5,445.7 779.3,450.2 774.8,448.4" stroke-width="1.5" fill="#fff"/>
<polygon points="777.2,434.8 778.0,428.5 783.5,427.2 793.0,430.4 795.7,436.2 791.1,441.5 781.6,438.3" stroke-width="1.8" fill="#fff"/>
<polyline points="782.9,430.2 786.5,440.0 782.1,436.4" stroke-width="1.2" fill="none"/>
<polygon points="787.5,431.7 793.0,430.4 795.7,436.2 791.1,441.5 786.7,438.0" stroke-width="1.5" fill="#fff"/>
<polygon points="869.3,455.6 870.5,457.0 870.0,458.6 868.1,459.0 867.4,460.8 868.4,462.6 867.7,464.1 865.9,464.2 865.0,465.9 865.8,467.9 865.0,469.3 863.2,469.0 862.2,470.6 862.7,472.8 861.8,474.1 860.2,473.4 859.0,474.9 859.3,477.2 858.3,478.4 856.8,477.4 855.5,478.6 855.5,481.1 854.4,482.1 853.1,480.8 851.8,481.8 851.5,484.3 850.4,485.1 849.3,483.5 847.9,484.3 847.4,486.9 846.2,487.5 845.3,485.6 843.9,486.2 843.1,488.7 842.0,489.0 841.3,487.0 839.9,487.3 838.9,489.7 837.8,489.8 837.3,487.6 836.0,487.6 834.8,489.9 833.7,489.8 833.5,487.4 832.2,487.2 830.8,489.3 829.7,489.0 829.8,486.5 828.6,486.0 827.0,487.9 826.1,487.4 826.4,484.9 825.3,484.1 823.6,485.8 822.7,485.1 823.3,482.5 822.3,481.5 820.6,482.9 819.8,482.0 820.6,479.5 819.8,478.3 818.0,479.3 817.3,478.3 818.4,475.9 817.7,474.5 815.8,475.2 815.4,474.0 816.6,471.7 816.1,470.1 814.3,470.5 813.9,469.2 815.4,467.1 815.1,465.4 813.2,465.4 813.1,464.0 814.7,462.1 814.5,460.3 812.8,460.0 812.8,458.5 814.5,456.9 814.6,455.0 813.0,454.3 813.1,452.8 814.9,451.5 815.2,449.6 813.7,448.6 814.0,447.0 815.9,446.1 816.3,444.1 815.0,442.8 815.5,441.2 817.4,440.6 818.0,438.8 816.9,437.2 817.5,435.6 819.3,435.4 820.2,433.6 819.3,431.7 820.0,430.3 821.8,430.4 822.8,428.7 822.1,426.6 823.0,425.3 824.7,425.7 825.8,424.2 825.4,421.9 826.3,420.7 827.9,421.5 829.1,420.2 829.0,417.8 830.0,416.7 831.4,417.9 832.7,416.7 832.8,414.2 834.0,413.3 835.2,414.8 836.5,413.8 836.9,411.3 838.1,410.6 839.1,412.3 840.5,411.7 841.1,409.1 842.3,408.7 843.1,410.6 844.5,410.2 845.4,407.7 846.5,407.5 847.1,409.6 848.5,409.5 849.6,407.1 850.7,407.1 851.0,409.4 852.4,409.5 853.7,407.3 854.7,407.5 854.8,409.9 856.1,410.3 857.5,408.3 858.5,408.7 858.3,411.2 859.5,411.8 861.1,410.1 862.0,410.7 861.6,413.2 862.6,414.1 864.4,412.6 865.2,413.4 864.5,415.9 865.4,417.0 867.2,415.8 867.9,416.8 866.9,419.3 867.7,420.6 869.6,419.7 870.1,420.8 869.0,423.2 869.5,424.6 871.4,424.1 871.8,425.4 870.5,427.5 870.9,429.2 872.7,429.0 873.0,430.4 871.5,432.3 871.7,434.1 873.5,434.3 873.6,435.8 871.9,437.5 871.9,439.3 873.6,439.8 873.5,441.4 871.8,442.8 871.6,444.7 873.1,445.5 872.9,447.1 871.1,448.2 870.7,450.1 872.1,451.3 871.7,452.9 869.9,453.7" stroke-width="1.25" fill="#fff"/>
<ellipse cx="843.2" cy="448.5" rx="25.9" ry="38.6" transform="rotate(19.0 843.2 448.5)" stroke-width="1.0" fill="none" />
<path d="M864.0 457.0C864.3 457.9 863.0 459.6 862.5 460.8C861.9 462.0 861.3 463.2 860.6 464.4C859.9 465.6 859.2 466.7 858.5 467.8C857.7 468.8 856.8 470.9 856.1 470.8C855.4 470.7 854.0 468.3 854.0 467.2C854.0 466.2 855.4 465.6 856.0 464.7C856.6 463.8 857.2 462.8 857.8 461.8C858.4 460.9 858.9 459.9 859.4 458.8C859.9 457.8 859.9 456.0 860.7 455.7C861.5 455.4 863.8 456.2 864.0 457.0Z" stroke-width="1.1" fill="#fff" />
<ellipse cx="863.7" cy="448.1" rx="1.9" ry="2.5" transform="rotate(19.0 863.7 448.1)" stroke-width="1.6" fill="#333" />
<path d="M843.5 480.0C843.0 481.0 841.5 480.6 840.5 480.8C839.6 481.0 838.6 481.1 837.7 481.1C836.7 481.1 835.8 481.1 834.9 480.9C833.9 480.8 832.3 481.2 832.2 480.2C832.0 479.3 833.3 475.9 834.0 475.1C834.6 474.4 835.4 475.6 836.2 475.7C837.0 475.8 837.8 475.9 838.5 475.9C839.3 475.8 840.2 475.8 841.0 475.6C841.8 475.5 843.0 474.2 843.4 475.0C843.8 475.7 843.9 479.0 843.5 480.0Z" stroke-width="1.1" fill="#fff" />
<ellipse cx="849.2" cy="473.2" rx="1.9" ry="2.5" transform="rotate(19.0 849.2 473.2)" stroke-width="1.6" fill="#333" />
<path d="M822.6 471.5C821.8 471.6 821.7 469.5 821.3 468.5C820.9 467.4 820.5 466.3 820.3 465.2C820.0 464.1 819.8 462.9 819.6 461.7C819.4 460.5 818.7 458.8 819.3 457.9C819.9 457.1 822.5 456.1 823.1 456.4C823.8 456.7 823.3 458.5 823.4 459.5C823.5 460.6 823.7 461.6 824.0 462.5C824.2 463.5 824.5 464.4 824.8 465.3C825.1 466.2 826.3 466.8 825.9 467.8C825.5 468.8 823.4 471.4 822.6 471.5Z" stroke-width="1.1" fill="#fff" />
<path d="M824.0 469.3C823.8 468.9 823.1 467.4 822.8 466.5C822.5 465.6 822.3 464.8 822.0 463.9C821.8 463.0 821.6 462.2 821.5 461.1C821.4 460.1 821.2 458.3 821.2 457.7" stroke-width="2.2" fill="none" />
<ellipse cx="828.7" cy="473.6" rx="1.9" ry="2.5" transform="rotate(19.0 828.7 473.6)" stroke-width="1.6" fill="#333" />
<path d="M822.4 440.0C822.1 439.1 823.4 437.4 823.9 436.2C824.5 435.0 825.1 433.8 825.8 432.6C826.5 431.4 827.2 430.3 827.9 429.2C828.7 428.2 829.6 426.1 830.3 426.2C831.0 426.3 832.4 428.7 832.4 429.8C832.4 430.8 831.0 431.4 830.4 432.3C829.8 433.2 829.2 434.2 828.6 435.2C828.0 436.1 827.5 437.1 827.0 438.2C826.5 439.2 826.5 441.0 825.7 441.3C824.9 441.6 822.6 440.8 822.4 440.0Z" stroke-width="1.1" fill="#fff" />
<line x1="823.0" y1="439.0" x2="825.8" y2="440.3" stroke-width="1.1" />
<line x1="823.7" y1="437.4" x2="826.4" y2="438.9" stroke-width="1.1" />
<line x1="824.4" y1="435.8" x2="827.0" y2="437.6" stroke-width="1.1" />
<line x1="825.2" y1="434.3" x2="827.7" y2="436.3" stroke-width="1.1" />
<line x1="826.0" y1="432.8" x2="828.4" y2="435.0" stroke-width="1.1" />
<line x1="826.9" y1="431.3" x2="829.2" y2="433.7" stroke-width="1.1" />
<line x1="827.8" y1="429.9" x2="829.9" y2="432.5" stroke-width="1.1" />
<line x1="828.8" y1="428.6" x2="830.8" y2="431.3" stroke-width="1.1" />
<line x1="829.8" y1="427.3" x2="831.6" y2="430.2" stroke-width="1.1" />
<ellipse cx="822.7" cy="448.9" rx="1.9" ry="2.5" transform="rotate(19.0 822.7 448.9)" stroke-width="1.6" fill="#333" />
<path d="M842.9 417.0C843.4 416.0 844.9 416.4 845.9 416.2C846.8 416.0 847.8 415.9 848.7 415.9C849.7 415.9 850.6 415.9 851.5 416.1C852.5 416.2 854.1 415.8 854.2 416.8C854.4 417.7 853.1 421.1 852.4 421.9C851.8 422.6 851.0 421.4 850.2 421.3C849.4 421.2 848.6 421.1 847.9 421.1C847.1 421.2 846.2 421.2 845.4 421.4C844.6 421.5 843.4 422.8 843.0 422.0C842.6 421.3 842.5 418.0 842.9 417.0Z" stroke-width="1.1" fill="#fff" />
<ellipse cx="837.2" cy="423.8" rx="1.9" ry="2.5" transform="rotate(19.0 837.2 423.8)" stroke-width="1.6" fill="#333" />
<path d="M863.8 425.5C864.6 425.4 864.7 427.5 865.1 428.5C865.5 429.6 865.9 430.7 866.1 431.8C866.4 432.9 866.6 434.1 866.8 435.3C867.0 436.5 867.7 438.2 867.1 439.1C866.5 439.9 863.9 440.9 863.3 440.6C862.6 440.3 863.1 438.5 863.0 437.5C862.9 436.4 862.7 435.4 862.4 434.5C862.2 433.5 861.9 432.6 861.6 431.7C861.3 430.8 860.1 430.2 860.5 429.2C860.9 428.2 863.0 425.6 863.8 425.5Z" stroke-width="1.1" fill="#fff" />
<ellipse cx="857.7" cy="423.4" rx="1.9" ry="2.5" transform="rotate(19.0 857.7 423.4)" stroke-width="1.6" fill="#333" />
<ellipse cx="843.2" cy="448.5" rx="15.8" ry="23.6" transform="rotate(19.0 843.2 448.5)" stroke-width="1.8" fill="none" />
<ellipse cx="842.4" cy="448.2" rx="14.1" ry="21.0" transform="rotate(19.0 842.4 448.2)" stroke-width="0.9" fill="none" />
<line x1="850.8" y1="448.3" x2="859.1" y2="448.2" stroke-width="2.0" />
<line x1="850.4" y1="450.0" x2="857.7" y2="450.0" stroke-width="0.8" />
<line x1="845.4" y1="457.7" x2="847.9" y2="467.7" stroke-width="2.0" />
<line x1="844.2" y1="458.4" x2="846.3" y2="467.3" stroke-width="0.8" />
<line x1="837.8" y1="457.8" x2="831.9" y2="468.0" stroke-width="2.0" />
<line x1="837.0" y1="456.9" x2="831.7" y2="465.8" stroke-width="0.8" />
<line x1="835.6" y1="448.7" x2="827.3" y2="448.8" stroke-width="2.0" />
<line x1="836.0" y1="447.0" x2="828.7" y2="447.0" stroke-width="0.8" />
<line x1="841.0" y1="439.3" x2="838.5" y2="429.3" stroke-width="2.0" />
<line x1="842.2" y1="438.6" x2="840.1" y2="429.7" stroke-width="0.8" />
<line x1="848.6" y1="439.2" x2="854.5" y2="429.0" stroke-width="2.0" />
<line x1="849.4" y1="440.1" x2="854.7" y2="431.2" stroke-width="0.8" />
<ellipse cx="843.2" cy="448.5" rx="7.6" ry="11.3" transform="rotate(19.0 843.2 448.5)" stroke-width="2.8" fill="#888" />
<ellipse cx="843.5" cy="448.6" rx="5.0" ry="7.4" transform="rotate(19.0 843.5 448.6)" stroke-width="2.4" fill="#fff" />
<ellipse cx="843.7" cy="448.7" rx="2.4" ry="3.6" transform="rotate(19.0 843.7 448.7)" stroke-width="1.6" fill="#fff" />
<path d="M549.3 150L545.2 173.5M544.6 176L542.7 190.5M540.8 206.5L538 222M537.2 226L536.2 231M535.5 235L531.6 255.5" stroke-width="0.9" fill="none" />
<path d="M541.2 143.2L546.5 142.3L561.5 145.2L561.3 147.2L552.5 149.2L543.4 148.4L541.2 145.6Z" stroke-width="1.2" fill="#fff" />
<path d="M541.2 143.2L548 146L561.5 145.2M548 146L547.6 148.8" stroke-width="1.0" fill="none" />
<path d="M546 143L553.5 144.3L552.6 146" stroke-width="2.0" fill="none" />
<path d="M543 146.6L552 148.2L560.5 146.4" stroke-width="1.8" fill="none" />
<path d="M543.2 168.6L549.8 169.8" stroke-width="1.9" fill="none" />
<path d="M542.6 171.6L549.2 172.8" stroke-width="1.9" fill="none" />
<path d="M549.8 169.6L573.8 172.6L549.4 172.6" stroke-width="0.8" fill="none" />
<path d="M540.2 192L544.2 191.6L544.6 196.4L546.4 196.8L546.2 199.2L544 199.6L543.2 205.8L540 206.2L539.4 199.8L537.4 199.2L537.6 196.8L539.8 196.4Z" stroke-width="1.1" fill="#fff" />
<path d="M537.5 198L546.3 198" stroke-width="1.4" fill="none" />
<path d="M540.2 200.5L539.9 205.8" stroke-width="1.8" fill="none" />
<line x1="546.5" y1="198.0" x2="570.5" y2="198.0" stroke-width="0.9" />
<line x1="561.8" y1="146.3" x2="585.0" y2="146.3" stroke-width="0.9" />
<line x1="74.6" y1="155.7" x2="74.6" y2="180.5" stroke-width="1.3" />
<line x1="105.5" y1="201.9" x2="105.5" y2="227.5" stroke-width="1.3" />
<line x1="144.4" y1="178.4" x2="144.4" y2="203.5" stroke-width="1.3" />
<line x1="280.4" y1="106.9" x2="280.4" y2="132.2" stroke-width="1.3" />
<line x1="487.4" y1="191.6" x2="487.4" y2="216.1" stroke-width="1.3" />
<line x1="389.0" y1="303.0" x2="389.0" y2="329.0" stroke-width="1.3" />
<line x1="421.3" y1="269.0" x2="421.3" y2="295.0" stroke-width="1.3" />
<line x1="677.4" y1="357.2" x2="677.4" y2="381.8" stroke-width="1.3" />
<line x1="625.2" y1="380.0" x2="625.2" y2="404.2" stroke-width="1.3" />
<line x1="728.5" y1="377.3" x2="728.5" y2="402.5" stroke-width="1.3" />
<line x1="782.8" y1="377.3" x2="782.8" y2="402.0" stroke-width="1.3" />
<line x1="849.4" y1="382.7" x2="849.4" y2="408.0" stroke-width="1.3" />
<line x1="901.5" y1="436.4" x2="901.5" y2="461.0" stroke-width="1.3" />
<line x1="975.5" y1="466.0" x2="975.5" y2="490.6" stroke-width="1.3" />
<line x1="578.4" y1="534.5" x2="578.4" y2="557.6" stroke-width="1.3" />
</svg>
<div class="t" style="left:154.3px;top:12.6px"><span class="c">后轮</span><span class="l">/REAR WHEEL</span></div>
<div class="n" style="left:68.2px;top:131.4px">1<i style="left:0.30px;width:6.0px"></i><i style="left:10.30px;width:4.9px"></i></div><div class="n" style="left:101.2px;top:225.6px">2</div><div class="n" style="left:140.3px;top:152.9px">3</div><div class="n" style="left:275.9px;top:82.4px">4</div><div class="n" style="left:482.3px;top:164.6px">5</div><div class="n" style="left:384.2px;top:327.5px">6</div><div class="n" style="left:416.6px;top:244.4px">7</div><div class="n" style="left:675.0px;top:331.8px">7</div><div class="n" style="left:621.1px;top:402.8px">8</div><div class="n" style="left:573.2px;top:184.5px">9</div><div class="n" style="left:575.9px;top:160.0px">10<i style="left:0.30px;width:6.0px"></i><i style="left:10.30px;width:4.9px"></i></div><div class="n" style="left:584.8px;top:131.0px">11<i style="left:0.30px;width:6.0px"></i><i style="left:10.30px;width:4.9px"></i><i style="left:15.42px;width:6.0px"></i><i style="left:25.42px;width:4.9px"></i></div><div class="n" style="left:719.2px;top:351.8px">12<i style="left:0.30px;width:6.0px"></i><i style="left:10.30px;width:4.9px"></i></div><div class="n" style="left:773.7px;top:351.8px">13<i style="left:0.30px;width:6.0px"></i><i style="left:10.30px;width:4.9px"></i></div><div class="n" style="left:840.5px;top:356.8px">14<i style="left:0.30px;width:6.0px"></i><i style="left:10.30px;width:4.9px"></i></div><div class="n" style="left:892.7px;top:409.8px">15<i style="left:0.30px;width:6.0px"></i><i style="left:10.30px;width:4.9px"></i></div><div class="n" style="left:966.7px;top:440.8px">16<i style="left:0.30px;width:6.0px"></i><i style="left:10.30px;width:4.9px"></i></div><div class="n" style="left:569.2px;top:509.2px">17<i style="left:0.30px;width:6.0px"></i><i style="left:10.30px;width:4.9px"></i></div>
<div class="f">FWD</div>
</body></html>
